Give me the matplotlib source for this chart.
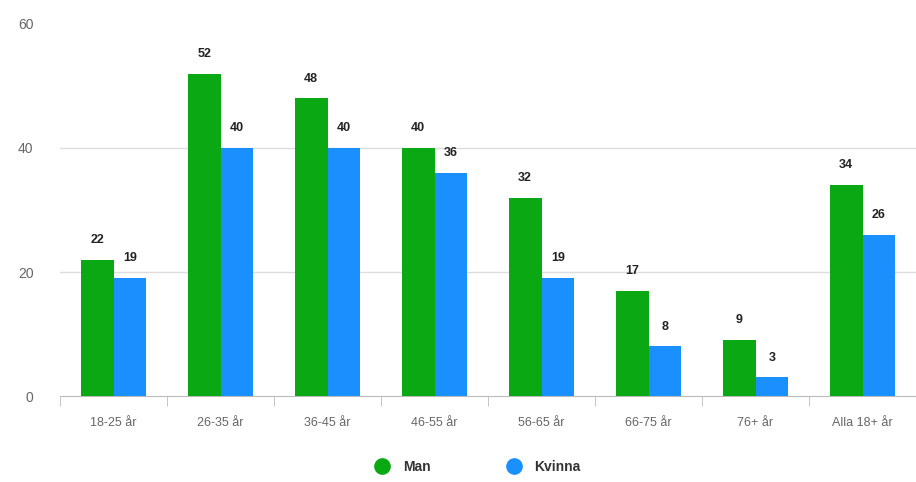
import numpy as np
import matplotlib.pyplot as plt
from matplotlib.lines import Line2D

# åldersgrupper och andel per kön
grupper = ['18-25 år', '26-35 år', '36-45 år', '46-55 år', '56-65 år', '66-75 år', '76+ år', 'Alla 18+ år']
man = [22, 52, 48, 40, 32, 17, 9, 34]
kvinna = [19, 40, 40, 36, 19, 8, 3, 26]

gron = '#0aa914'
bla = '#1a90ff'

plt.rcParams['font.family'] = ['Liberation Sans', 'DejaVu Sans']

fig = plt.figure(figsize=(9.16, 4.82), dpi=100)
ax = fig.add_axes([60 / 916, 86 / 482, 856 / 916, 372 / 482])

x = np.arange(len(grupper))
w = 0.305
b1 = ax.bar(x - w / 2, man, w, color=gron, zorder=3)
b2 = ax.bar(x + w / 2, kvinna, w, color=bla, zorder=3)

for bars in (b1, b2):
    for rect in bars:
        h = rect.get_height()
        ax.annotate('%d' % h, (rect.get_x() + rect.get_width() / 2, h),
                    xytext=(0, 10), textcoords='offset points', ha='center', va='bottom',
                    fontsize=9, fontweight='bold', color='#222222')

ax.set_xlim(-0.5, len(grupper) - 0.5)
ax.set_ylim(0, 60)
ax.set_yticks([0, 20, 40, 60])
ax.yaxis.grid(True, color='#dddddd', linewidth=1, zorder=0)
ax.get_ygridlines()[-1].set_visible(False)
ax.get_ygridlines()[0].set_visible(False)

for s in ('top', 'right', 'left'):
    ax.spines[s].set_visible(False)
ax.spines['bottom'].set_color('#bbbbbb')

ax.set_xticks(x)
ax.set_xticklabels(grupper, fontsize=9, color='#666666')
ax.set_xticks(np.arange(len(grupper) + 1) - 0.5, minor=True)
ax.tick_params(axis='x', which='major', length=0, pad=15)
ax.tick_params(axis='x', which='minor', length=7, color='#bbbbbb')
ax.tick_params(axis='y', length=0, pad=19, labelsize=10, labelcolor='#666666')

handles = [Line2D([], [], marker='o', linestyle='', markersize=11, color=gron),
           Line2D([], [], marker='o', linestyle='', markersize=11, color=bla)]
leg = fig.legend(handles, ['Man', 'Kvinna'], loc='lower center', ncol=2, frameon=False,
                 bbox_to_anchor=(0.518, -0.01), columnspacing=5.0, handletextpad=0.5,
                 prop={'size': 10, 'weight': 'bold'})
for t in leg.get_texts():
    t.set_color('#333333')

plt.savefig('out.png', dpi=100)
